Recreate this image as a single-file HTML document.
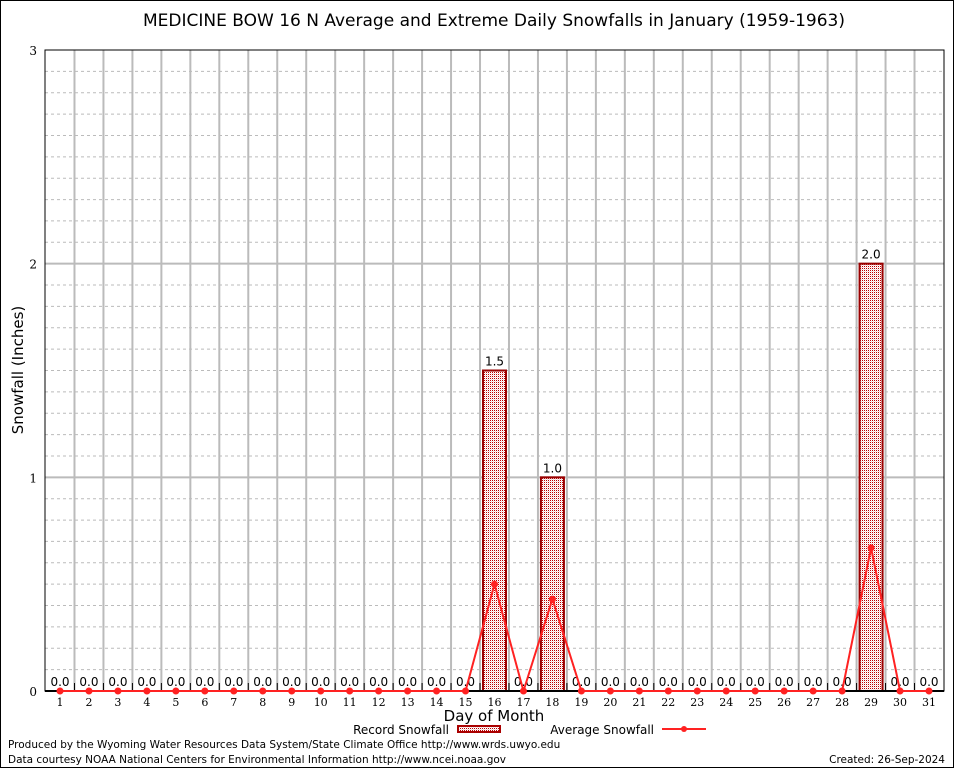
<!DOCTYPE html>
<html><head><meta charset="utf-8"><style>
body{margin:0;background:#fff}
svg{display:block}
text{font-family:"DejaVu Sans","Liberation Sans",sans-serif}
.serif{font-family:"DejaVu Serif","Liberation Serif",serif}
</style></head><body>
<svg id="c" width="954" height="768" viewBox="0 0 954 768">
<defs>
<pattern id="hatch" width="2" height="2" patternUnits="userSpaceOnUse">
<rect width="2" height="2" fill="#fff"/><rect width="1" height="1" fill="#b00"/><rect x="1" y="1" width="1" height="1" fill="#f4dada"/>
</pattern>
</defs>
<rect x="0.5" y="0.5" width="953" height="767" fill="#fff" stroke="#000"/>
<text x="494" y="26" font-size="17" text-anchor="middle">MEDICINE BOW 16 N Average and Extreme Daily Snowfalls in January (1959-1963)</text>
<g id="grid"></g><g id="marks"></g>
<text transform="translate(23,370) rotate(-90)" font-size="15" text-anchor="middle">Snowfall (Inches)</text>
<text x="494" y="721" font-size="15" text-anchor="middle">Day of Month</text>
<g><text x="449" y="734" font-size="12" text-anchor="end">Record Snowfall</text><rect x="458" y="726" width="42" height="6" fill="url(#hatch)" stroke="#a00" stroke-width="2"/></g>
<g><text x="654" y="734" font-size="12" text-anchor="end">Average Snowfall</text><line x1="662" y1="729" x2="706" y2="729" stroke="#f22" stroke-width="2"/><circle cx="684" cy="729" r="3" fill="#f22"/></g>
<text x="8" y="748" font-size="10.5">Produced by the Wyoming Water Resources Data System/State Climate Office http://www.wrds.uwyo.edu</text>
<text x="8" y="763" font-size="10.5">Data courtesy NOAA National Centers for Environmental Information http://www.ncei.noaa.gov</text>
<text x="945" y="763" font-size="10.5" text-anchor="end">Created:  26-Sep-2024</text>
</svg>
<script>
const days=[1,2,3,4,5,6,7,8,9,10,11,12,13,14,15,16,17,18,19,20,21,22,23,24,25,26,27,28,29,30,31];
const recordSnow=[0,0,0,0,0,0,0,0,0,0,0,0,0,0,0,1.5,0,1.0,0,0,0,0,0,0,0,0,0,0,2.0,0,0];
const avgSnow=[0,0,0,0,0,0,0,0,0,0,0,0,0,0,0,0.5,0,0.43,0,0,0,0,0,0,0,0,0,0,0.67,0,0];
const yTicks=[0,1,2,3];
const L=45,R=944,T=50,B=691,yMax=3;
const xs=d=>60+(d-1)*(929-60)/30;
const ys=v=>B-v/yMax*(B-T);
const NS='http://www.w3.org/2000/svg';
function mk(p,tag,a,txt){const e=document.createElementNS(NS,tag);for(const k in a)e.setAttribute(k,a[k]);if(txt!=null)e.textContent=txt;p.appendChild(e);return e;}
const g=document.getElementById('grid'),m=document.getElementById('marks');
for(let i=1;i<yMax*10;i++){const v=i/10;if(i%10===0)continue;
const l=mk(g,'line',{x1:L,x2:R,y1:ys(v),y2:ys(v),stroke:'#bbb','stroke-dasharray':'3,3','stroke-width':1});

}
const step=(929-60)/30;
for(let i=0;i<days.length-1;i++){const x=xs(days[i])+step/2;
const l=mk(g,'line',{x1:x,x2:x,y1:T,y2:B,stroke:'#bbb','stroke-width':2});


const t=mk(g,'line',{x1:x,x2:x,y1:B-8,y2:B,stroke:'#000','stroke-width':1});

}
yTicks.forEach(v=>{
if(v>0&&v<yMax){const l=mk(g,'line',{x1:L,x2:R,y1:ys(v),y2:ys(v),stroke:'#bbb','stroke-width':2});

}
const t=mk(g,'text',{x:L-8,y:ys(v)+5,'font-size':12,'text-anchor':'end',class:'serif'},String(v));

});
const fr=mk(g,'rect',{x:L,y:T,width:R-L,height:B-T,fill:'none',stroke:'#000','stroke-width':1});


days.forEach((d,i)=>{
const x=xs(d),v=recordSnow[i];
if(v>0){const b=mk(m,'rect',{x:x-11.5,y:ys(v),width:23,height:B-ys(v),fill:'url(#hatch)',stroke:'#900','stroke-width':2});

}
const t=mk(m,'text',{x:x,y:ys(v)-5,'font-size':12,'text-anchor':'middle'},v.toFixed(1));


const xl=mk(m,'text',{x:x,y:B+15,'font-size':11,'text-anchor':'middle',class:'serif'},String(d));

});
const bl=mk(m,'line',{x1:L,x2:R,y1:B,y2:B,stroke:'#000','stroke-width':2});


const pl=mk(m,'polyline',{points:days.map((d,i)=>xs(d)+','+ys(avgSnow[i])).join(' '),fill:'none',stroke:'#f22','stroke-width':2});


days.forEach((d,i)=>{const c=mk(m,'circle',{cx:xs(d),cy:ys(avgSnow[i]),r:3.5,fill:'#f22'});

});
</script>
</body></html>
